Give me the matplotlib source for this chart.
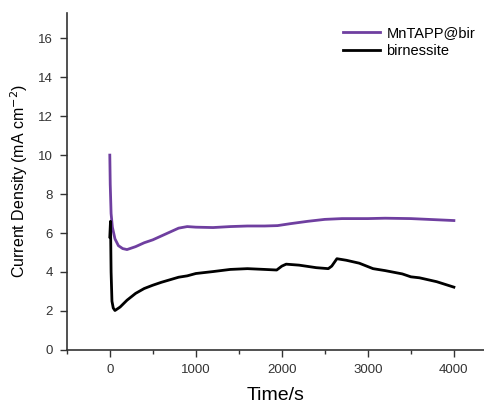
import numpy as np
import matplotlib.pyplot as plt
from matplotlib.ticker import MultipleLocator

plt.rcParams['font.family'] = ['Liberation Sans', 'DejaVu Sans']

# === DATOS ===
t_mn = [0, 5, 15, 30, 60, 100, 150, 200, 300, 400, 500, 600, 700, 800, 900,
        1000, 1200, 1400, 1600, 1800, 1950, 2100, 2300, 2500, 2700, 3000,
        3200, 3500, 3800, 4000]
j_mn = [10.0, 8.5, 7.0, 6.3, 5.7, 5.35, 5.2, 5.15, 5.3, 5.5, 5.65, 5.85,
        6.05, 6.25, 6.33, 6.3, 6.28, 6.33, 6.36, 6.36, 6.38, 6.48, 6.6,
        6.7, 6.74, 6.74, 6.76, 6.74, 6.68, 6.64]

t_bir = [0, 8, 15, 25, 40, 60, 120, 200, 300, 400, 500, 600, 700, 800, 900,
         1000, 1200, 1400, 1600, 1800, 1940, 2000, 2050, 2200, 2400, 2540,
         2580, 2640, 2750, 2900, 3060, 3200, 3400, 3500, 3600, 3800, 4000]
j_bir = [5.8, 6.6, 4.0, 2.5, 2.15, 2.02, 2.2, 2.55, 2.9, 3.15, 3.32, 3.47,
         3.6, 3.73, 3.8, 3.92, 4.02, 4.13, 4.17, 4.13, 4.1, 4.3, 4.4, 4.35,
         4.22, 4.17, 4.3, 4.68, 4.6, 4.45, 4.17, 4.07, 3.9, 3.75, 3.7, 3.5,
         3.22]

# === GRAFICO ===
fig = plt.figure(figsize=(4.84, 4.04), dpi=100)
ax = fig.add_axes([0.138, 0.134, 0.862, 0.834])

ax.plot(t_mn, j_mn, color='#6f3fa0', lw=2, label='MnTAPP@bir')
ax.plot(t_bir, j_bir, color='black', lw=2, label='birnessite')

ax.set_xlim(-500, 4350)
ax.set_ylim(0, 17.3)
ax.xaxis.set_major_locator(MultipleLocator(1000))
ax.xaxis.set_minor_locator(MultipleLocator(500))
ax.yaxis.set_major_locator(MultipleLocator(2))

for s in ['top', 'right']:
    ax.spines[s].set_visible(False)
for s in ['left', 'bottom']:
    ax.spines[s].set_color('#333333')
    ax.spines[s].set_linewidth(1.2)

ax.tick_params(which='major', length=5, width=1, colors='#333333', labelsize=9.5, pad=5)
ax.tick_params(which='minor', length=3, width=1, colors='#333333')

ax.set_xlabel('Time/s', fontsize=14, labelpad=8)
ax.set_ylabel('Current Density (mA cm$^{-2}$)', fontsize=11.5, labelpad=6)

ax.legend(loc='upper right', bbox_to_anchor=(1.01, 1.0), frameon=False,
          fontsize=10.5, handlelength=2.6, handletextpad=0.4, labelspacing=0.3)

fig.savefig('out.png', dpi=100)
